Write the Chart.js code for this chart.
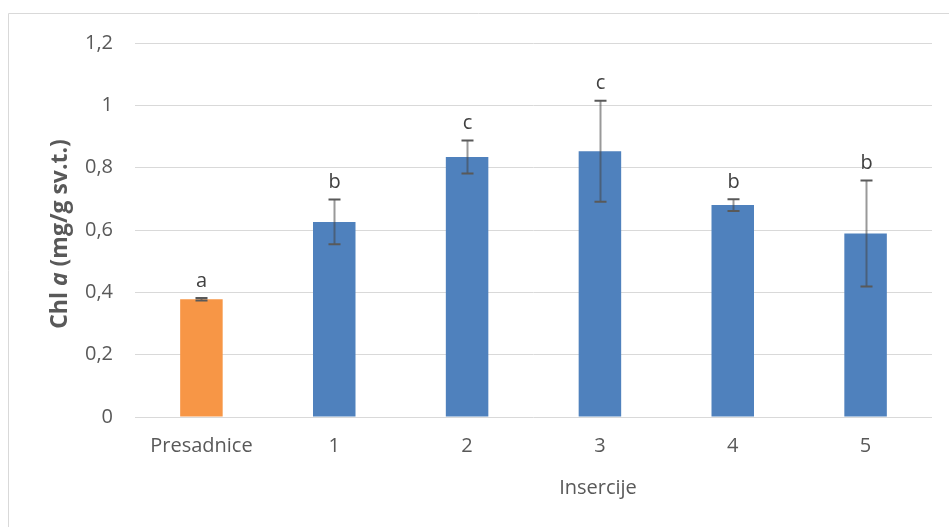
<!DOCTYPE html>
<html>
<head>
<meta charset="utf-8">
<script src="https://cdn.jsdelivr.net/npm/chart.js@4"></script>
<style>
  html, body { margin: 0; padding: 0; background: #fff; }
  #wrap { width: 949px; height: 527px; position: relative; }
</style>
</head>
<body>
<div id="wrap"><canvas id="chlChart" width="949" height="527"></canvas></div>
<script>
// data
const categories = ['Presadnice', '1', '2', '3', '4', '5'];
const chlValues = [0.378, 0.626, 0.834, 0.853, 0.680, 0.589];
const chlErrors = [0.004, 0.072, 0.053, 0.162, 0.019, 0.170];
const groupLetters = ['a', 'b', 'c', 'c', 'b', 'b'];
const barColors = ['#F79646', '#4F81BD', '#4F81BD', '#4F81BD', '#4F81BD', '#4F81BD'];

const FONT = "'Open Sans', 'Noto Sans', sans-serif";

// error bars + letters above them
const errorBarPlugin = {
    id: 'errorBars',
    afterDatasetsDraw(chart) {
        const ctx = chart.ctx;
        const y = chart.scales.y;
        const meta = chart.getDatasetMeta(0);
        ctx.save();
        meta.data.forEach((bar, i) => {
            const x = Math.round(bar.x) + 0.5;
            const top = y.getPixelForValue(chlValues[i] + chlErrors[i]);
            const bottom = y.getPixelForValue(chlValues[i] - chlErrors[i]);
            ctx.strokeStyle = 'rgba(70,70,70,0.55)';
            ctx.lineWidth = 2;
            ctx.beginPath();
            ctx.moveTo(x, top);
            ctx.lineTo(x, bottom);
            ctx.stroke();
            ctx.strokeStyle = '#595959';
            ctx.beginPath();
            ctx.moveTo(x - 6, top);
            ctx.lineTo(x + 6, top);
            ctx.moveTo(x - 6, bottom);
            ctx.lineTo(x + 6, bottom);
            ctx.stroke();

            ctx.fillStyle = '#404040';
            ctx.font = '20px ' + FONT;
            ctx.textAlign = 'center';
            ctx.textBaseline = 'bottom';
            ctx.fillText(groupLetters[i], x, top - 7);
        });
        ctx.restore();
    }
};

// axis titles (y title has an italic "a") and the outer frame
const decorPlugin = {
    id: 'decor',
    afterDraw(chart) {
        const ctx = chart.ctx;
        ctx.save();
        ctx.strokeStyle = '#d9d9d9';
        ctx.lineWidth = 1;
        ctx.beginPath();
        ctx.moveTo(8.5, 527);
        ctx.lineTo(8.5, 13.5);
        ctx.lineTo(949, 13.5);
        ctx.stroke();

        ctx.fillStyle = '#595959';
        ctx.font = '20px ' + FONT;
        ctx.textAlign = 'center';
        ctx.textBaseline = 'middle';
        ctx.fillText('Insercije', 598, 488);

        const parts = [
            { t: 'Chl ', f: 'bold 23px ' + FONT },
            { t: 'a', f: 'italic bold 23px ' + FONT },
            { t: ' (mg/g sv.t.)', f: 'bold 23px ' + FONT }
        ];
        let total = 0;
        parts.forEach(p => { ctx.font = p.f; total += ctx.measureText(p.t).width; });
        ctx.translate(60, 234);
        ctx.rotate(-Math.PI / 2);
        ctx.textAlign = 'left';
        let pos = -total / 2;
        parts.forEach(p => {
            ctx.font = p.f;
            ctx.fillText(p.t, pos, 0);
            pos += ctx.measureText(p.t).width;
        });
        ctx.restore();
    }
};

const ctx = document.getElementById('chlChart').getContext('2d');
new Chart(ctx, {
    type: 'bar',
    data: {
        labels: categories,
        datasets: [{
            data: chlValues,
            backgroundColor: barColors,
            categoryPercentage: 1,
            barPercentage: 0.32
        }]
    },
    options: {
        responsive: false,
        animation: false,
        layout: { padding: { top: 43, right: 17, bottom: 0, left: 0 } },
        plugins: {
            legend: { display: false },
            tooltip: { enabled: false }
        },
        scales: {
            x: {
                grid: { display: false, drawTicks: false },
                border: { display: false },
                ticks: { color: '#595959', font: { family: FONT, size: 20 }, padding: 17 },
                afterFit(scale) { scale.height = 110; }
            },
            y: {
                min: 0,
                max: 1.2,
                grid: { color: '#d9d9d9', lineWidth: 1, drawTicks: false },
                border: { display: false },
                ticks: {
                    stepSize: 0.2,
                    color: '#595959',
                    font: { family: FONT, size: 20 },
                    padding: 22,
                    callback: v => (Math.round(v * 10) / 10).toString().replace('.', ',')
                },
                afterFit(scale) { scale.width = 135; }
            }
        }
    },
    plugins: [errorBarPlugin, decorPlugin]
});
</script>
</body>
</html>
